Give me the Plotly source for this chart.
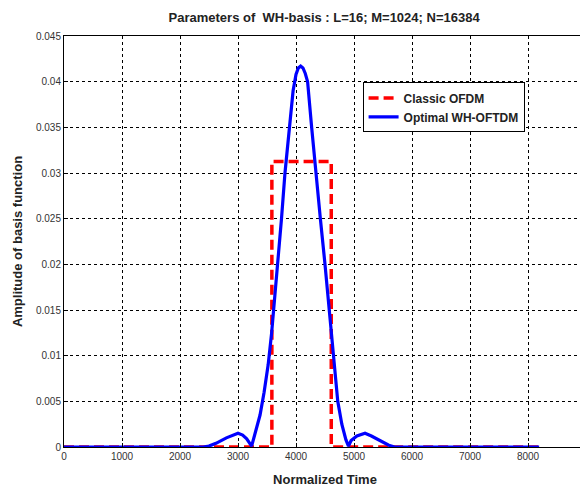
import plotly.graph_objects as go

# Optimal WH-OFTDM basis function
wh_x = [0, 2400, 2500, 2620, 2800, 2950, 3000, 3080, 3150, 3235, 3300, 3380, 3450,
        3520, 3580, 3630, 3690, 3750, 3810, 3880, 3950, 4000, 4040, 4080, 4120, 4160,
        4200, 4270, 4340, 4420, 4500, 4570, 4640, 4720, 4790, 4860, 4905, 4950, 5050,
        5190, 5300, 5480, 5600, 5700, 8192]
wh_y = [0, 0, 0.0001, 0.0004, 0.0010, 0.0014, 0.0015, 0.0013, 0.0009, 0.0001, 0.0015,
        0.0035, 0.0060, 0.0090, 0.0125, 0.0160, 0.0205, 0.0250, 0.0300, 0.0345, 0.0390,
        0.0408, 0.0415, 0.0417, 0.0415, 0.0409, 0.0400, 0.0350, 0.0300, 0.0250, 0.0200,
        0.0150, 0.0100, 0.0050, 0.0025, 0.0008, 0.0001, 0.0007, 0.0012, 0.0015, 0.0012,
        0.0006, 0.0002, 0, 0]

# Classic OFDM rectangular basis
ofdm_x = [0, 3584, 3584, 4608, 4608, 8192]
ofdm_y = [0, 0, 0.03125, 0.03125, 0, 0]

x_ticks = [0, 1000, 2000, 3000, 4000, 5000, 6000, 7000, 8000, 9000]
y_ticks = [0, 0.005, 0.01, 0.015, 0.02, 0.025, 0.03, 0.035, 0.04, 0.045]
y_labels = ["0", "0.005", "0.01", "0.015", "0.02", "0.025", "0.03", "0.035", "0.04", "0.045"]

fig = go.Figure()
fig.add_trace(go.Scatter(x=ofdm_x, y=ofdm_y, mode="lines", name="<b>Classic OFDM</b>",
                         line=dict(color="#ff0000", width=3.5, dash="10px,5px")))
fig.add_trace(go.Scatter(x=wh_x, y=wh_y, mode="lines", name="<b>Optimal WH-OFTDM</b>",
                         line=dict(color="#0000ff", width=3.2)))

axis_common = dict(showline=True, linecolor="black", linewidth=1, mirror=True,
                   ticks="inside", ticklen=4, tickcolor="black", automargin=False,
                   showgrid=True, gridcolor="black", gridwidth=1, griddash="3px,3px",
                   zeroline=False, tickfont=dict(family="Liberation Sans, Arial", size=10, color="#333"))

fig.update_xaxes(range=[0, 9000], tickvals=x_ticks, **axis_common,
                 title=dict(text="<b>Normalized Time</b>", standoff=13,
                            font=dict(family="Liberation Sans, Arial", size=13, color="#222")))
fig.update_yaxes(range=[0, 0.045], tickvals=y_ticks, ticktext=y_labels, **axis_common,
                 title=dict(text="<b>Amplitude of basis function</b>", standoff=10,
                            font=dict(family="Liberation Sans, Arial", size=13, color="#222")))

# page body adds an 8px offset, so the figure is drawn 8px smaller
fig.update_layout(
    width=580, height=479,
    margin=dict(l=56, r=2, t=28, b=40, autoexpand=False),
    paper_bgcolor="white", plot_bgcolor="white",
    title=dict(text="<b>Parameters of  WH-basis : L=16; M=1024; N=16384</b>",
               x=0.545, xanchor="center", y=0.981, yanchor="middle", automargin=False,
               font=dict(family="Liberation Sans, Arial", size=13, color="#222")),
    legend=dict(x=0.572, y=0.887, xanchor="left", yanchor="top",
                bgcolor="white", bordercolor="black", borderwidth=1,
                font=dict(family="Liberation Sans, Arial", size=12, color="#222"),
                tracegroupgap=0, itemwidth=30),
    showlegend=True,
)

fig.write_html("out.html")
